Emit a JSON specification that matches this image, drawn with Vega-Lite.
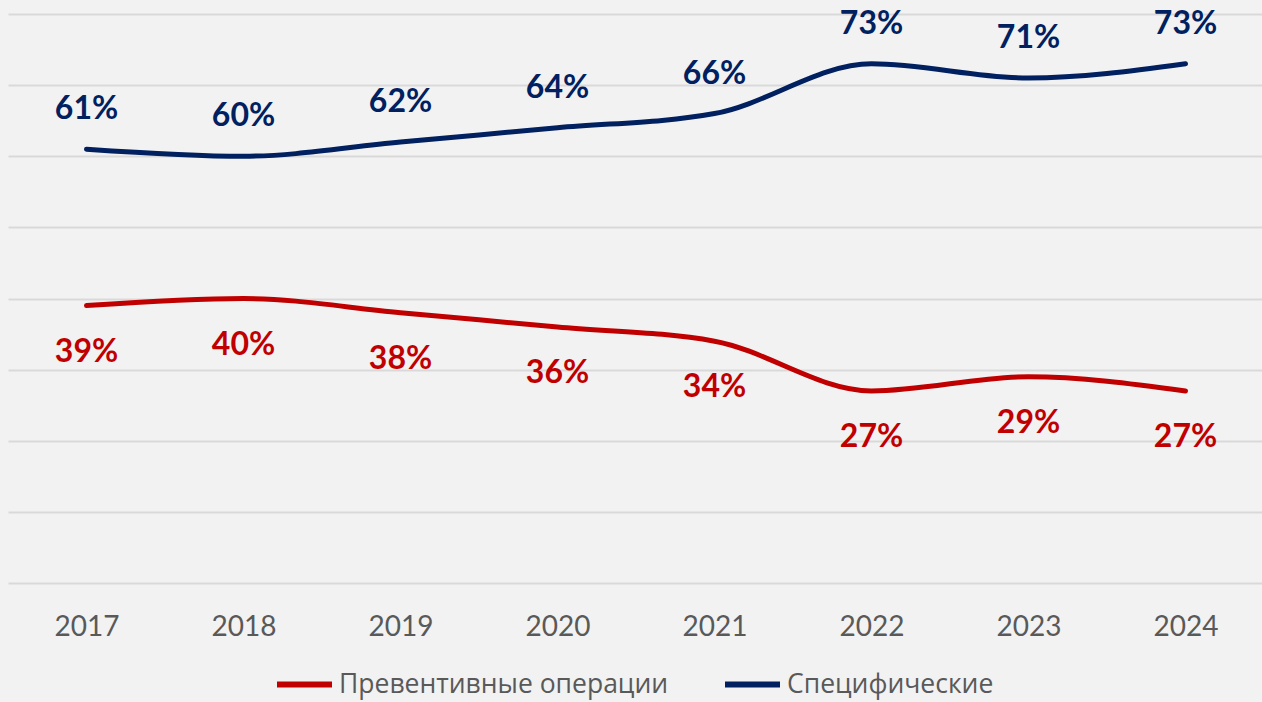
{
  "$schema": "https://vega.github.io/schema/vega-lite/v6.json",
  "autosize": "none",
  "width": 1256,
  "height": 569,
  "padding": {"left": 8, "top": 14, "right": 0, "bottom": 119},
  "background": "#f2f2f2",
  "config": {"view": {"stroke": null}},
  "data": {"values": [
    {"year": "2017", "series": "Превентивные операции", "value": 0.39},
    {"year": "2018", "series": "Превентивные операции", "value": 0.40},
    {"year": "2019", "series": "Превентивные операции", "value": 0.38},
    {"year": "2020", "series": "Превентивные операции", "value": 0.36},
    {"year": "2021", "series": "Превентивные операции", "value": 0.34},
    {"year": "2022", "series": "Превентивные операции", "value": 0.27},
    {"year": "2023", "series": "Превентивные операции", "value": 0.29},
    {"year": "2024", "series": "Превентивные операции", "value": 0.27},
    {"year": "2017", "series": "Специфические", "value": 0.61},
    {"year": "2018", "series": "Специфические", "value": 0.60},
    {"year": "2019", "series": "Специфические", "value": 0.62},
    {"year": "2020", "series": "Специфические", "value": 0.64},
    {"year": "2021", "series": "Специфические", "value": 0.66},
    {"year": "2022", "series": "Специфические", "value": 0.73},
    {"year": "2023", "series": "Специфические", "value": 0.71},
    {"year": "2024", "series": "Специфические", "value": 0.73}
  ]},
  "encoding": {
    "x": {"field": "year", "type": "ordinal", "scale": {"type": "point", "padding": 0.5},
      "axis": {"title": null, "domain": false, "ticks": false, "labelAngle": 0, "labelFont": "Lato", "labelFontSize": 28, "labelColor": "#595959", "labelPadding": 30}},
    "y": {"field": "value", "type": "quantitative", "scale": {"domain": [0, 0.8], "nice": false},
      "axis": {"title": null, "domain": false, "ticks": false, "labels": false, "values": [0,0.1,0.2,0.3,0.4,0.5,0.6,0.7,0.8], "gridColor": "#d9d9d9", "gridWidth": 2}}
  },
  "layer": [
    {
      "mark": {"type": "line", "interpolate": "monotone", "strokeWidth": 5, "strokeCap": "round"},
      "encoding": {
        "color": {"field": "series", "type": "nominal",
          "scale": {"domain": ["Превентивные операции", "Специфические"], "range": ["#c00000", "#002060"]},
          "legend": {"title": null, "orient": "none", "direction": "horizontal", "legendX": 266, "legendY": 640,
            "symbolType": "stroke", "symbolSize": 3025, "symbolStrokeWidth": 6, "symbolOpacity": 1, "labelFont": "Open Sans", "labelFontSize": 26.5, "labelColor": "#595959", "labelOffset": 4, "columnPadding": 44, "labelLimit": 600}}
      }
    },
    {
      "transform": [{"filter": "datum.series === 'Специфические'"}],
      "mark": {"type": "text", "font": "Lato", "fontWeight": "bold", "fontSize": 32, "color": "#002060", "baseline": "middle", "dy": -40},
      "encoding": {"text": {"field": "value", "type": "quantitative", "format": ".0%"}}
    },
    {
      "transform": [{"filter": "datum.series === 'Превентивные операции'"}],
      "mark": {"type": "text", "font": "Lato", "fontWeight": "bold", "fontSize": 32, "color": "#c00000", "baseline": "middle", "dy": 46},
      "encoding": {"text": {"field": "value", "type": "quantitative", "format": ".0%"}}
    }
  ]
}
